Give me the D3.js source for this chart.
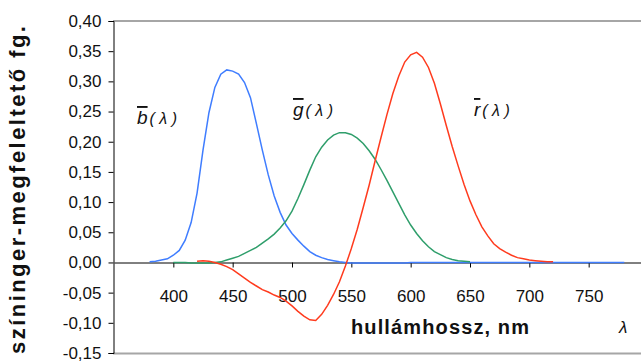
<!DOCTYPE html>
<html>
<head>
<meta charset="utf-8">
<script src="https://cdn.jsdelivr.net/npm/d3@7"></script>
<style>
  body { margin: 0; background: #fff; }
  svg { display: block; font-family: Arial, "Liberation Sans", sans-serif; }
</style>
</head>
<body>
<svg id="chart" width="641" height="361"></svg>
<script>
// wavelength, nm
var wavelength = [380, 385, 390, 395, 400, 405, 410, 415, 420, 425, 430, 435, 440, 445, 450, 455, 460, 465, 470, 475,
    480, 485, 490, 495, 500, 505, 510, 515, 520, 525, 530, 535, 540, 545, 550, 555, 560, 565, 570, 575,
    580, 585, 590, 595, 600, 605, 610, 615, 620, 625, 630, 635, 640, 645, 650, 655, 660, 665, 670, 675,
    680, 685, 690, 695, 700, 705, 710, 715, 720, 725, 730, 735, 740, 745, 750, 755, 760, 765, 770, 775, 780]

// b(λ) 380..780
var bBar = [0.001, 0.002, 0.004, 0.006, 0.012, 0.020, 0.037, 0.066, 0.115, 0.186, 0.248, 0.290, 0.312, 0.319, 0.317, 0.312, 0.298, 0.273, 0.230, 0.186,
    0.145, 0.110, 0.083, 0.062, 0.048, 0.037, 0.027, 0.018, 0.012, 0.008, 0.005, 0.003, 0.001, 0.000, -0.001, -0.001, -0.001, -0.001, -0.001, -0.001,
    -0.001, -0.001, -0.001, -0.001, 0, 0, 0, 0, 0, 0, 0, 0, 0, 0, 0, 0, 0, 0, 0, 0,
    0, 0, 0, 0, 0, 0, 0, 0, 0, 0, 0, 0, 0, 0, 0, 0, 0, 0, 0, 0, 0]

// g(λ) 400..650
var gBar = [null, null, null, null, 0.000, 0.000, 0.000, -0.001, -0.001, -0.001, -0.001, 0.000, 0.001, 0.004, 0.007, 0.010, 0.015, 0.020, 0.025, 0.032,
    0.039, 0.047, 0.057, 0.069, 0.085, 0.106, 0.129, 0.153, 0.175, 0.191, 0.203, 0.211, 0.215, 0.215, 0.212, 0.206, 0.197, 0.185, 0.171, 0.154,
    0.136, 0.117, 0.098, 0.079, 0.062, 0.048, 0.036, 0.026, 0.018, 0.013, 0.008, 0.005, 0.003, 0.002, 0.001, null, null, null, null, null,
    null, null, null, null, null, null, null, null, null, null, null, null, null, null, null, null, null, null, null, null, null]

// r(λ) 420..720
var rBar = [null, null, null, null, null, null, null, null, 0.002, 0.003, 0.002, 0.000, -0.003, -0.007, -0.012, -0.019, -0.026, -0.033, -0.039, -0.045,
    -0.049, -0.054, -0.058, -0.064, -0.072, -0.081, -0.089, -0.095, -0.096, -0.086, -0.071, -0.053, -0.032, -0.006, 0.023, 0.055, 0.091, 0.128, 0.168, 0.207,
    0.245, 0.280, 0.309, 0.332, 0.344, 0.348, 0.340, 0.323, 0.297, 0.263, 0.227, 0.192, 0.160, 0.129, 0.102, 0.079, 0.059, 0.044, 0.031, 0.023,
    0.017, 0.012, 0.008, 0.006, 0.004, 0.003, 0.002, 0.001, 0.001, null, null, null, null, null, null, null, null, null, null, null, null]

var xTicks = [400, 450, 500, 550, 600, 650, 700, 750]
var yTicks = [-0.15, -0.10, -0.05, 0, 0.05, 0.10, 0.15, 0.20, 0.25, 0.30, 0.35, 0.40]

var svg = d3.select('#chart')

var xScale = d3.scaleLinear().domain([350, 800]).range([114, 648])
var yScale = d3.scaleLinear().domain([-0.15, 0.40]).range([353, 21])

// plot area frame (grey), only top and bottom visible
svg.append('line')
    .attr('x1', 113).attr('x2', 641).attr('y1', 21).attr('y2', 21)
    .attr('stroke', '#a6a6a6').attr('stroke-width', 2)
svg.append('line')
    .attr('x1', 113).attr('x2', 641).attr('y1', 353.5).attr('y2', 353.5)
    .attr('stroke', '#a6a6a6').attr('stroke-width', 2)

// y axis
var yAxis = svg.append('g')
    .attr('transform', 'translate(113.5,0)')
    .call(d3.axisLeft(yScale).tickValues(yTicks).tickSize(5).tickPadding(7)
        .tickFormat(d => d.toFixed(2).replace('.', ',')))
yAxis.selectAll('text').attr('font-size', 17).attr('fill', '#111').attr('font-family', 'Arial, "Liberation Sans", sans-serif')
yAxis.select('.domain').attr('stroke', '#000')

// x axis crossing at 0
var xAxis = svg.append('g')
    .attr('transform', 'translate(0,' + (Math.round(yScale(0)) + 0.5) + ')')
    .call(d3.axisBottom(xScale).tickValues(xTicks).tickSize(5).tickPadding(22).tickSizeOuter(0))
xAxis.selectAll('text').attr('font-size', 17).attr('fill', '#111').attr('font-family', 'Arial, "Liberation Sans", sans-serif')

var series = [
    { name: 'b', values: bBar, color: '#3f7dff' },
    { name: 'g', values: gBar, color: '#2f9e6b' },
    { name: 'r', values: rBar, color: '#ff3b1e' }
]

var line = d3.line()
    .defined(d => d[1] !== null)
    .x(d => xScale(d[0]))
    .y(d => yScale(d[1]))

series.forEach(s => {
    svg.append('path')
        .attr('d', line(wavelength.map((w, i) => [w, s.values[i]])))
        .attr('fill', 'none')
        .attr('stroke', s.color)
        .attr('stroke-width', 1.5)
})

// axis titles
svg.append('text')
    .attr('transform', 'translate(25,190) rotate(-90)')
    .attr('text-anchor', 'middle')
    .attr('font-size', 22)
    .attr('font-weight', 'bold')
    .attr('fill', '#111')
    .attr('textLength', 328)
    .attr('lengthAdjust', 'spacing')
    .text('színinger-megfeleltető fg.')

svg.append('text')
    .attr('x', 440).attr('y', 334)
    .attr('text-anchor', 'middle')
    .attr('font-size', 20)
    .attr('font-weight', 'bold')
    .attr('fill', '#111')
    .attr('textLength', 178)
    .attr('lengthAdjust', 'spacing')
    .text('hullámhossz, nm')

svg.append('text')
    .attr('x', 619).attr('y', 333)
    .attr('font-size', 17)
    .attr('font-style', 'italic')
    .attr('fill', '#111')
    .text('λ')

// curve labels
var labels = [
    { letter: 'b', x: 137, y: 124 },
    { letter: 'g', x: 293, y: 116 },
    { letter: 'r', x: 474, y: 116 }
]
labels.forEach(l => {
    var t = svg.append('text')
        .attr('x', l.x).attr('y', l.y)
        .attr('font-size', 19)
        .attr('font-style', 'italic')
        .attr('fill', '#111')
    t.append('tspan').attr('text-decoration', 'overline').text(l.letter)
    t.append('tspan').attr('font-size', 16).attr('dx', 2).text('( λ )')
})
</script>
</body>
</html>
